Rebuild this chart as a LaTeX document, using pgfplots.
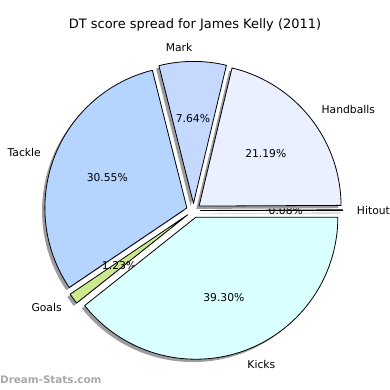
\documentclass[border=0pt]{standalone}
\usepackage{pgfplots}
\pgfplotsset{compat=1.18}
\usepackage{pgfplotstable}
\usepackage{fontspec}
\setmainfont{DejaVu Sans}
\definecolor{cHit}{HTML}{F4F8FF}
\definecolor{cHand}{HTML}{EAF0FF}
\definecolor{cMark}{HTML}{C5D9FF}
\definecolor{cTack}{HTML}{B5D5FF}
\definecolor{cGoal}{HTML}{CCE88C}
\definecolor{cKick}{HTML}{D9FFFF}
\definecolor{shadowc}{HTML}{9C9CA0}
\definecolor{wmark}{HTML}{A8A8A8}

\pgfplotstableread{
label value color explode
Hitout 0.08 cHit 0.05
Handballs 21.19 cHand 0.05
Mark 7.64 cMark 0.05
Tackle 30.55 cTack 0.05
Goals 1.23 cGoal 0.05
Kicks 39.30 cKick 0.05
}\piedata

\def\R{142}
\def\CX{193.5}
\def\CY{179.5}
\def\cum{0}
\newcommand\labfont{\fontsize{10.8}{13}\selectfont}

\begin{document}
\begin{tikzpicture}
\begin{axis}[
  width=390bp, height=390bp, scale only axis,
  xmin=0, xmax=390, ymin=0, ymax=390,
  hide axis, clip=false,
]
\addplot[draw=none, forget plot] coordinates {(0,0) (390,390)};
\pgfplotsforeachungrouped \i in {0,...,5}{%
  \pgfplotstablegetelem{\i}{value}\of\piedata \let\val\pgfplotsretval
  \pgfplotstablegetelem{\i}{color}\of\piedata \let\col\pgfplotsretval
  \pgfplotstablegetelem{\i}{label}\of\piedata \let\lab\pgfplotsretval
  \pgfplotstablegetelem{\i}{explode}\of\piedata \let\ex\pgfplotsretval
  \pgfmathsetmacro\aS{\cum*3.6}%
  \pgfmathsetmacro\aE{(\cum+\val)*3.6}%
  \pgfmathsetmacro\aM{(\aS+\aE)/2}%
  \pgfmathsetmacro\px{\CX+\ex*\R*cos(\aM)}%
  \pgfmathsetmacro\py{\CY+\ex*\R*sin(\aM)}%
  \pgfmathsetmacro\sx{\px-0.02*\R}%
  \pgfmathsetmacro\sy{\py-0.02*\R}%
  \pgfmathsetmacro\lx{\px+1.1*\R*cos(\aM)}%
  \pgfmathsetmacro\ly{\py+1.1*\R*sin(\aM)}%
  \pgfmathsetmacro\tx{\px+0.6*\R*cos(\aM)}%
  \pgfmathsetmacro\ty{\py+0.6*\R*sin(\aM)}%
  \pgfmathsetmacro\newcum{\cum+\val}%
  \global\let\cum\newcum
  \pgfmathtruncatemacro\isright{cos(\aM)>0}%
  \ifnum\isright=1 \def\anc{west}\else\def\anc{east}\fi
  \edef\temp{%
    \noexpand\fill[shadowc] (axis cs:\sx,\sy) -- ++(\aS:\R bp) arc[start angle=\aS, end angle=\aE, radius=\R bp] -- cycle;
    \noexpand\filldraw[fill=\col, draw=black, line width=0.8bp, line join=round] (axis cs:\px,\py) -- ++(\aS:\R bp) arc[start angle=\aS, end angle=\aE, radius=\R bp] -- cycle;
    \noexpand\node[anchor=\anc, inner sep=0pt, font=\noexpand\labfont] at (axis cs:\lx,\ly) {\lab};
    \noexpand\node[inner sep=0pt, font=\noexpand\labfont] at (axis cs:\tx,\ty) {\val\noexpand\%};
  }\temp
}
\node[font=\fontsize{13}{15}\selectfont] at (axis cs:195,365) {DT score spread for James Kelly (2011)};
\node[anchor=west, inner sep=0pt, text=wmark, font=\bfseries\fontsize{10.4}{12}\selectfont] at (axis cs:0,10) {Dream-Stats.com};
\end{axis}
\end{tikzpicture}
\end{document}
